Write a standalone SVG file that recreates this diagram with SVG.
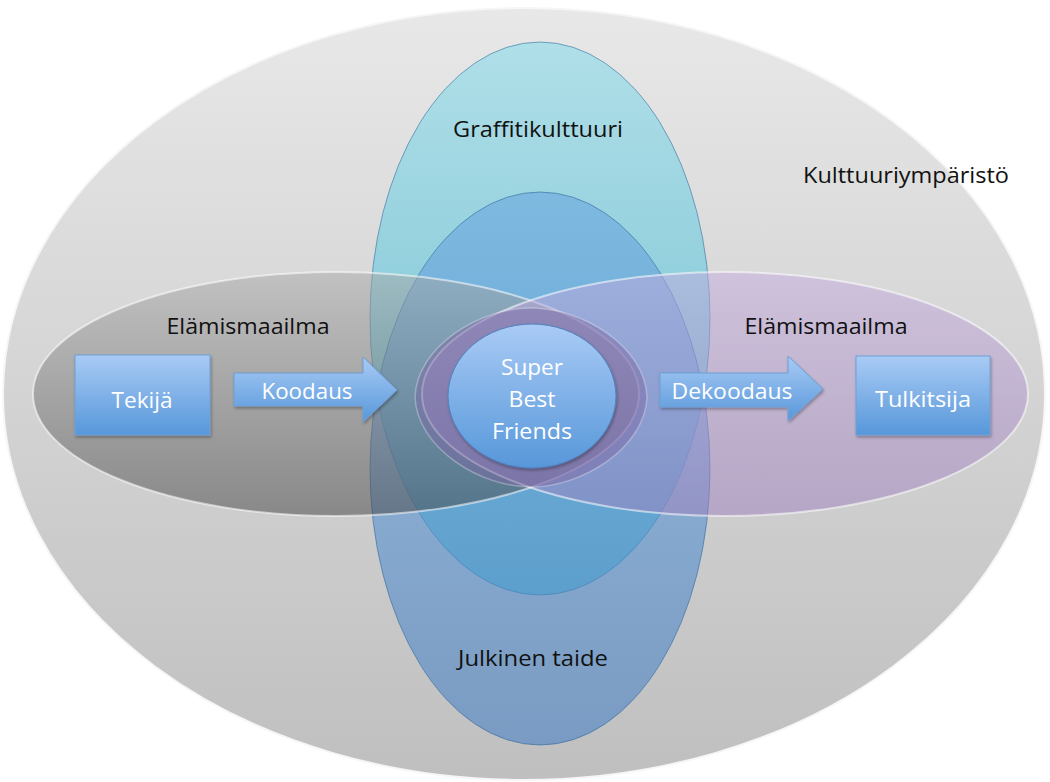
<svg xmlns="http://www.w3.org/2000/svg" width="1050" height="782" viewBox="0 0 1050 782">
<defs>
  <linearGradient id="gOuter" x1="0" y1="0" x2="0" y2="1">
    <stop offset="0" stop-color="#e8e8e8"/>
    <stop offset="1" stop-color="#bfbfbf"/>
  </linearGradient>
  <linearGradient id="gA" x1="0" y1="0" x2="0" y2="1">
    <stop offset="0" stop-color="#8edbe9"/>
    <stop offset="1" stop-color="#32b2d0"/>
  </linearGradient>
  <linearGradient id="gB" x1="0" y1="0" x2="0" y2="1">
    <stop offset="0" stop-color="#6aa6e0"/>
    <stop offset="1" stop-color="#4a82c4"/>
  </linearGradient>
  <linearGradient id="gLeft" x1="0" y1="0" x2="0" y2="1">
    <stop offset="0" stop-color="#a8a8a8"/>
    <stop offset="1" stop-color="#444444"/>
  </linearGradient>
  <linearGradient id="gRight" x1="0" y1="0" x2="0" y2="1">
    <stop offset="0" stop-color="#c4aade"/>
    <stop offset="1" stop-color="#9c80bc"/>
  </linearGradient>
  <linearGradient id="gBox" x1="0" y1="0" x2="0" y2="1">
    <stop offset="0" stop-color="#a9cbf5"/>
    <stop offset="1" stop-color="#5797da"/>
  </linearGradient>
  <style>
    .lbl { font-family: "Open Sans", "Liberation Sans", sans-serif; font-size: 21px; fill: #111; text-anchor: middle; }
    .wlbl { font-family: "Open Sans", "Liberation Sans", sans-serif; font-size: 21px; fill: #ffffff; text-anchor: middle; }
    .box { fill: url(#gBox); stroke: #6f9fd6; stroke-width: 1; }
    .vert { stroke: rgba(40,100,150,0.55); stroke-width: 1; }
    .horiz { stroke: rgba(255,255,255,0.55); stroke-width: 2; }
  </style>
  <filter id="sh" x="-10%" y="-10%" width="130%" height="130%">
    <feDropShadow dx="1" dy="2" stdDeviation="1.5" flood-color="#000" flood-opacity="0.3"/>
  </filter>
</defs>

<rect width="1050" height="782" fill="#ffffff"/>

<g id="kulttuuriymparisto">
  <ellipse cx="524" cy="394" rx="521" ry="386" fill="url(#gOuter)" stroke="#f6f6f6" stroke-width="2"/>
  <text class="lbl" x="906" y="183" textLength="206" lengthAdjust="spacingAndGlyphs">Kulttuuriympäristö</text>
</g>

<g id="graffitikulttuuri">
  <ellipse class="vert" cx="540" cy="318.5" rx="170" ry="276.5" fill="url(#gA)" fill-opacity="0.62"/>
  <text class="lbl" x="538" y="137" textLength="170" lengthAdjust="spacingAndGlyphs">Graffitikulttuuri</text>
</g>

<g id="julkinen-taide">
  <ellipse class="vert" cx="540" cy="468.5" rx="170" ry="276.5" fill="url(#gB)" fill-opacity="0.6"/>
  <text class="lbl" x="533" y="666" textLength="150" lengthAdjust="spacingAndGlyphs">Julkinen taide</text>
</g>

<g id="elamismaailma-vasen">
  <ellipse class="horiz" cx="336" cy="394" rx="303" ry="122" fill="url(#gLeft)" fill-opacity="0.5"/>
  <text class="lbl" x="248" y="334" textLength="163" lengthAdjust="spacingAndGlyphs">Elämismaailma</text>
</g>

<g id="elamismaailma-oikea">
  <ellipse class="horiz" cx="725" cy="394" rx="303" ry="122" fill="url(#gRight)" fill-opacity="0.5"/>
  <text class="lbl" x="826" y="334" textLength="163" lengthAdjust="spacingAndGlyphs">Elämismaailma</text>
</g>

<g id="ydin">
  <path d="M415,397 C417,346 480,308 531,308 C582,308 645,346 647,397 C645,448 582,487 531,487 C480,487 417,448 415,397 Z" fill="#7a6aa6" fill-opacity="0.5" stroke="rgba(255,255,255,0.3)" stroke-width="1.5"/>
</g>

<g id="super-best-friends">
  <ellipse cx="532" cy="396" rx="84" ry="72" fill="url(#gBox)" stroke="#4f80bd" stroke-width="1" filter="url(#sh)"/>
  <text class="wlbl" x="532" y="375" textLength="62" lengthAdjust="spacingAndGlyphs">Super</text>
  <text class="wlbl" x="532" y="407" textLength="47" lengthAdjust="spacingAndGlyphs">Best</text>
  <text class="wlbl" x="532" y="439" textLength="80" lengthAdjust="spacingAndGlyphs">Friends</text>
</g>

<g id="tekija">
  <rect class="box" x="75" y="355" width="135" height="80" filter="url(#sh)"/>
  <text class="wlbl" x="142" y="408" textLength="61" lengthAdjust="spacingAndGlyphs">Tekijä</text>
</g>

<g id="tulkitsija">
  <rect class="box" x="856" y="356" width="134" height="79" filter="url(#sh)"/>
  <text class="wlbl" x="923" y="407" textLength="96" lengthAdjust="spacingAndGlyphs">Tulkitsija</text>
</g>

<g id="connectors">
  <g id="koodaus">
    <path class="box" d="M234,373 L363,373 L363,357 L397,390 L363,422 L363,406 L234,406 Z" filter="url(#sh)"/>
    <text class="wlbl" x="307" y="399" textLength="91" lengthAdjust="spacingAndGlyphs">Koodaus</text>
  </g>
  <g id="dekoodaus">
    <path class="box" d="M660,373 L788,373 L788,356 L823,389 L788,421 L788,407 L660,407 Z" filter="url(#sh)"/>
    <text class="wlbl" x="732" y="399" textLength="121" lengthAdjust="spacingAndGlyphs">Dekoodaus</text>
  </g>
</g>
</svg>
